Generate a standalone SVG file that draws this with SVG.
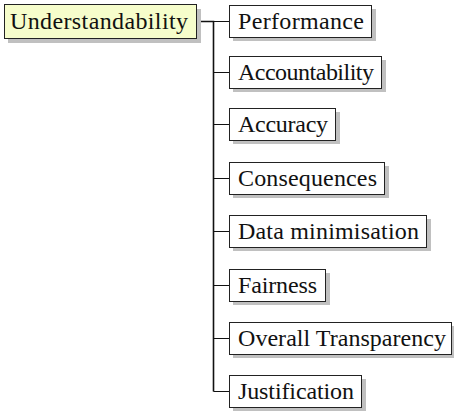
<svg xmlns="http://www.w3.org/2000/svg" width="454" height="411" viewBox="0 0 454 411">
<style>
.sh{fill:#c0c0c0}
.bx{fill:#ffffff;stroke:#222;stroke-width:1}
.root{fill:#f6fdcb;stroke:#222;stroke-width:1}
text{font-family:"Liberation Serif","DejaVu Serif",serif;font-size:24px;fill:#111}
.c{stroke:#111;fill:none}
</style>
<rect width="454" height="411" fill="#fff"/>
<g id="connectors">
<path class="c" stroke-width="1.6" d="M197 21.5H213.5V391.5"/>
<path class="c" stroke-width="1" d="M213.5 21.5H229M213.5 72.5H229M213.5 124.5H229M213.5 178.5H229M213.5 231.5H229M213.5 285.5H229M213.5 338.5H229M213.5 391.5H229"/>
</g>
<g id="understandability">
<rect class="sh" x="8" y="9" width="193" height="34"/>
<rect class="root" x="4.5" y="4.5" width="192" height="34"/>
<text x="10" y="29" textLength="178" lengthAdjust="spacing">Understandability</text>
</g>
<g id="performance">
<rect class="sh" x="233" y="9" width="143" height="32"/>
<rect class="bx" x="229.5" y="5.5" width="142" height="32"/>
<text x="238" y="29" textLength="126" lengthAdjust="spacing">Performance</text>
</g>
<g id="accountability">
<rect class="sh" x="233" y="60" width="153" height="32"/>
<rect class="bx" x="229.5" y="56.5" width="152" height="32"/>
<text x="238" y="80" textLength="136" lengthAdjust="spacing">Accountability</text>
</g>
<g id="accuracy">
<rect class="sh" x="233" y="112" width="107" height="32"/>
<rect class="bx" x="229.5" y="108.5" width="106" height="32"/>
<text x="238" y="132" textLength="90" lengthAdjust="spacing">Accuracy</text>
</g>
<g id="consequences">
<rect class="sh" x="233" y="166" width="156" height="32"/>
<rect class="bx" x="229.5" y="162.5" width="155" height="32"/>
<text x="238" y="186" textLength="139" lengthAdjust="spacing">Consequences</text>
</g>
<g id="data">
<rect class="sh" x="233" y="219" width="198" height="32"/>
<rect class="bx" x="229.5" y="215.5" width="197" height="32"/>
<text x="238" y="239" textLength="181" lengthAdjust="spacing">Data minimisation</text>
</g>
<g id="fairness">
<rect class="sh" x="233" y="273" width="97" height="32"/>
<rect class="bx" x="229.5" y="269.5" width="96" height="32"/>
<text x="238" y="293" textLength="79" lengthAdjust="spacing">Fairness</text>
</g>
<g id="transparency">
<rect class="sh" x="233" y="326" width="223" height="32"/>
<rect class="bx" x="229.5" y="322.5" width="222" height="32"/>
<text x="238" y="346" textLength="208" lengthAdjust="spacing">Overall Transparency</text>
</g>
<g id="justification">
<rect class="sh" x="233" y="379" width="133" height="32"/>
<rect class="bx" x="229.5" y="375.5" width="132" height="32"/>
<text x="238" y="399" textLength="116" lengthAdjust="spacing">Justification</text>
</g>
</svg>
